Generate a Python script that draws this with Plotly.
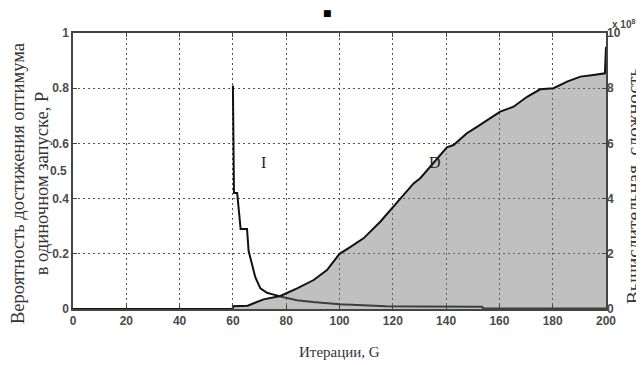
import plotly.graph_objects as go

# ---- data ----
G_I = [60, 60.4, 61.6, 62.9, 65.3, 65.9, 67.1, 68.4, 70.3, 72.8, 75.3, 77.8, 84, 90, 100, 110, 117, 117.5, 130, 140, 153.5, 154, 170, 200]
P_I = [0.81, 0.42, 0.42, 0.29, 0.29, 0.21, 0.165, 0.115, 0.075, 0.059, 0.052, 0.045, 0.032, 0.025, 0.017, 0.014, 0.012, 0.010, 0.009, 0.009, 0.008, 0.002, 0.002, 0.002]

G_D = [0, 60, 60, 65.5, 71.5, 77.8, 84.1, 90.3, 95.3, 100, 104, 109, 115.3, 120.3, 127.8, 130.3, 135.3,
       140.3, 142.8, 147.8, 151.6, 156.6, 160.3, 165.3, 170.4, 175.3, 180.3, 185.4, 190.4, 195.3, 199.1, 199.6, 200]
D_vals = [0, 0, 0.1, 0.12, 0.35, 0.47, 0.75, 1.05, 1.41, 2.0, 2.24, 2.56, 3.16, 3.71, 4.55, 4.74, 5.28,
          5.86, 5.94, 6.37, 6.6, 6.91, 7.15, 7.33, 7.69, 7.96, 8.0, 8.24, 8.42, 8.48, 8.54, 8.54, 9.5]

x_ticks = [0, 20, 40, 60, 80, 100, 120, 140, 160, 180, 200]
y_ticks = [0, 0.2, 0.4, 0.6, 0.8, 1]
y_tick_text = ["0", "0.2", "0.4", "0.6", "0.8", "1"]
y2_ticks = [0, 2, 4, 6, 8, 10]

title_left = "Вероятность достижения оптимума<br>в одиночном запуске, P"
title_right = "Вычислительная  сложность"
title_x = "Итерации, G"

tick_font = dict(family="Liberation Sans, Arial", size=12, color="#4a4a4a")
serif = "Liberation Serif, Times New Roman, serif"
axis_col = "#444444"
grid_col = "#555555"

fig = go.Figure()

fig.add_trace(go.Scatter(
    x=G_D, y=D_vals, yaxis="y2", mode="lines",
    line=dict(color="#111111", width=2),
    fill="tozeroy", fillcolor="rgba(115,115,115,0.45)",
    showlegend=False, hoverinfo="skip"))

fig.add_trace(go.Scatter(
    x=G_I, y=P_I, mode="lines",
    line=dict(color="#111111", width=2),
    showlegend=False, hoverinfo="skip"))

# page body has an 8px margin: figure is drawn from (8, 8)
fig.update_layout(
    width=636, height=357,
    margin=dict(l=65, r=38, t=25, b=56),
    paper_bgcolor="white", plot_bgcolor="white",
    xaxis=dict(range=[0, 200], tickvals=x_ticks,
               ticktext=["<b>%d</b>" % v for v in x_ticks],
               tickfont=tick_font, ticks="inside", ticklen=4, tickcolor=axis_col,
               showline=True, linecolor=axis_col, linewidth=1.5, mirror="ticks",
               showgrid=True, gridcolor=grid_col, gridwidth=1, griddash="2px,3px",
               zeroline=False, layer="above traces"),
    yaxis=dict(range=[0, 1], tickvals=y_ticks,
               ticktext=["<b>%s</b>" % t for t in y_tick_text],
               tickfont=tick_font, ticks="inside", ticklen=4, tickcolor=axis_col,
               showline=True, linecolor=axis_col, linewidth=1.5, mirror=True,
               showgrid=True, gridcolor=grid_col, gridwidth=1, griddash="2px,3px",
               zeroline=False, layer="above traces"),
    yaxis2=dict(range=[0, 10], tickvals=y2_ticks,
                ticktext=["<b>%d</b>" % v for v in y2_ticks],
                tickfont=tick_font, overlaying="y", side="right",
                ticks="inside", ticklen=4, tickcolor=axis_col,
                showline=False, showgrid=False, zeroline=False),
    annotations=[
        dict(text=title_left, xref="paper", yref="paper", x=0, y=0.453,
             xanchor="center", yanchor="middle",
             xshift=-43, textangle=-90, showarrow=False, align="center",
             font=dict(family=serif, size=18.5, color="#333333")),
        dict(text=title_right, xref="paper", yref="paper", x=1, y=0.445,
             xanchor="center", yanchor="middle",
             xshift=27, textangle=-90, showarrow=False,
             font=dict(family=serif, size=19.5, color="#333333")),
        dict(text=title_x, xref="paper", yref="paper", x=0.5, y=0,
             xanchor="center", yanchor="middle",
             yshift=-43, showarrow=False,
             font=dict(family=serif, size=15, color="#333333")),
        dict(text="<b>x 10<sup>8</sup></b>", xref="paper", yref="paper", x=1, y=1,
             xanchor="center", yanchor="middle",
             xshift=17, yshift=9, showarrow=False,
             font=dict(family="Liberation Sans, Arial", size=10, color="#4a4a4a")),
        dict(text="<b>0.5</b>", xref="paper", yref="y", x=0, y=0.5,
             xanchor="right", xshift=-4, showarrow=False, font=tick_font),
        dict(text="I", x=71.5, y=0.53, xref="x", yref="y", showarrow=False,
             font=dict(family=serif, size=16, color="#222222")),
        dict(text="D", x=136, y=0.53, xref="x", yref="y", showarrow=False,
             font=dict(family=serif, size=16, color="#222222")),
        dict(text="■", xref="paper", yref="paper", x=0.478, y=1,
             xanchor="center", yanchor="middle", yshift=20,
             showarrow=False, font=dict(family="DejaVu Sans", size=9, color="#000000")),
    ],
)

fig.write_html("out.html")
